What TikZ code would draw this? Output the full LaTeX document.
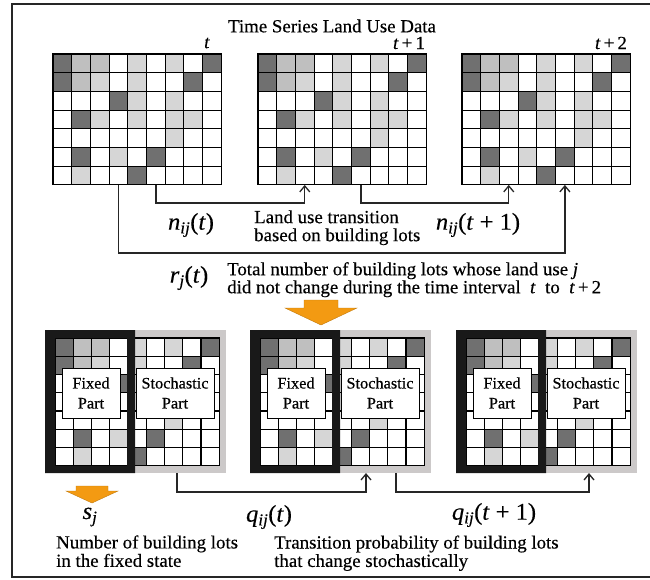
\documentclass[tikz,border=0pt]{standalone}
\usepackage{fontspec}
\setmainfont{Liberation Serif}[FakeStretch=1.02, FakeBold=0.4]
\usepackage{tikz}
\usetikzlibrary{arrows.meta, positioning, calc}
\usepackage[svgnames]{xcolor}

\colorlet{lotD}{black!56}
\colorlet{lotM}{black!25}
\colorlet{lotL}{black!16}
\colorlet{lotW}{white}
\definecolor{lotorange}{RGB}{243,154,18}
\definecolor{bandgray}{RGB}{204,201,201}

% land use of each lot, row by row (D dark, M mid, L light, W none)
\newcommand{\lotrows}{{D,M,M,W,L,W,L,W,D},{D,M,L,W,L,W,W,D,W},{W,W,W,D,L,W,L,W,W},{W,D,L,W,L,W,L,L,W},{W,W,W,W,W,W,L,W,W},{W,D,W,L,W,D,W,W,W},{W,L,W,W,D,W,W,W,W}}

\begin{document}
\begin{tikzpicture}[x=1pt, y=-1pt,
    cell/.style={draw=black, line width=1.1pt},
    gridnode/.style={inner sep=0, outer sep=0, minimum width=168.3, minimum height=130.9},
    panelnode/.style={inner sep=0, outer sep=0, minimum width=181, minimum height=143},
    partbox/.style={draw, fill=white, line width=1pt, inner sep=0, minimum height=50, align=center, font=\fontsize{16}{20}\selectfont},
    body/.style={inner sep=0, align=left, font=\fontsize{18.5}{18}\selectfont},
    sym/.style={inner sep=0, font=\fontsize{24}{24}\selectfont},
    conn/.style={line width=1.3pt, draw=black!85, -{Straight Barb[length=6pt, width=10pt]}},
    blockarrow/.style={fill=lotorange, draw=lotorange!80!black, line width=0.4pt}]
\useasboundingbox (0,0) rectangle (650,579);
\draw[line width=1.5pt, black!85] (652,4) -- (12,4) -- (12,577) -- (652,577);

\node[body] (title) at (332,26) {Time Series Land Use Data};

% time series grids
\foreach \gx/\gn in {53/g1, 258/g2, 462/g3}{
  \foreach \row [count=\r] in \lotrows
    \foreach \c [count=\k] in \row
      \filldraw[cell, fill=lot\c] ({\gx+(\k-1)*18.7},{54+(\r-1)*18.7}) rectangle ++(18.7,18.7);
  \node[gridnode, anchor=north west] (\gn) at (\gx,54) {};
}
\node[body] (tg1) at (207,43) {\textit{t}};
\node[body] (tg2) at (409,43) {\textit{t}\,+\,1};
\node[body] (tg3) at (611,43) {\textit{t}\,+\,2};

\draw[conn] ([xshift=65.5pt]g1.south west) -- ++(0,68) -| ([xshift=102.9pt]g3.south west);
\draw[conn] ([xshift=102.9pt]g1.south west) -- ++(0,18) -| ([xshift=46.75pt]g2.south west);
\draw[conn] ([xshift=102.9pt]g2.south west) -- ++(0,18) -| ([xshift=46.75pt]g3.south west);

\node[sym] (nt) at (191,225) {\textit{n}\textsubscript{\textit{ij}}(\textit{t})};
\node[body, anchor=west] (ntext) at (254,227.7) {Land use transition\\based on building lots};
\node[sym] (nt1) at (478,225) {\textit{n}\textsubscript{\textit{ij}}(\textit{t} + 1)};

\node[sym] (rt) at (189,278) {\textit{r}\textsubscript{\textit{j}}(\textit{t})};
\node[body, anchor=west] (rtext) at (227,279.7) {Total number of building lots whose land use \textit{j}\\did not change during the time interval \ \textit{t} \ to \ \textit{t}\,+\,2};

\draw[blockarrow] (304,300) -- (338,300) -- (338,308) -- (357,308) -- (321,325) -- (285,308) -- (304,308) -- cycle;

% fixed and stochastic parts
\foreach \px/\pn in {55/p1, 260/p2, 466/p3}{
  \fill[bandgray] ({\px+72},330) rectangle ({\px+171},473);
  \foreach \row [count=\r] in \lotrows
    \foreach \c [count=\k] in \row
      \filldraw[cell, fill=lot\c] ({\px+(\k-1)*18.25},{338+(\r-1)*18.25}) rectangle ++(18.25,18.25);
  \fill[black!90, even odd rule] ({\px-10},330) rectangle ({\px+80},473) (\px,338) rectangle ({\px+72},465.75);
  \node[panelnode, anchor=north west] (\pn) at ({\px-10},330) {};
  \node[partbox, minimum width=58] (\pn-fix) at ({\px+36},393) {Fixed\\Part};
  \node[partbox, minimum width=78] (\pn-sto) at ({\px+120},393) {Stochastic\\Part};
}

\draw[conn] ([xshift=132pt]p1.south west) -- ++(0,19) -| ([xshift=116pt]p2.south west);
\draw[conn] ([xshift=146pt]p2.south west) -- ++(0,19) -| ([xshift=133pt]p3.south west);

\draw[blockarrow] (76,486) -- (108,486) -- (108,491) -- (118,491) -- (92,503) -- (66,491) -- (76,491) -- cycle;

\node[sym] (sj) at (90,517) {\textit{s}\textsubscript{\textit{j}}};
\node[body, anchor=west, font=\fontsize{18.5}{18.4}\selectfont] (stext) at (56,551.2) {Number of building lots\\in the fixed state};
\node[sym] (qt) at (269,517) {\textit{q}\textsubscript{\textit{ij}}(\textit{t})};
\node[sym] (qt1) at (494,515) {\textit{q}\textsubscript{\textit{ij}}(\textit{t} + 1)};
\node[body, anchor=west, font=\fontsize{18.5}{18.4}\selectfont] (qtext) at (274,553.2) {Transition probability of building lots\\that change stochastically};
\end{tikzpicture}
\end{document}
